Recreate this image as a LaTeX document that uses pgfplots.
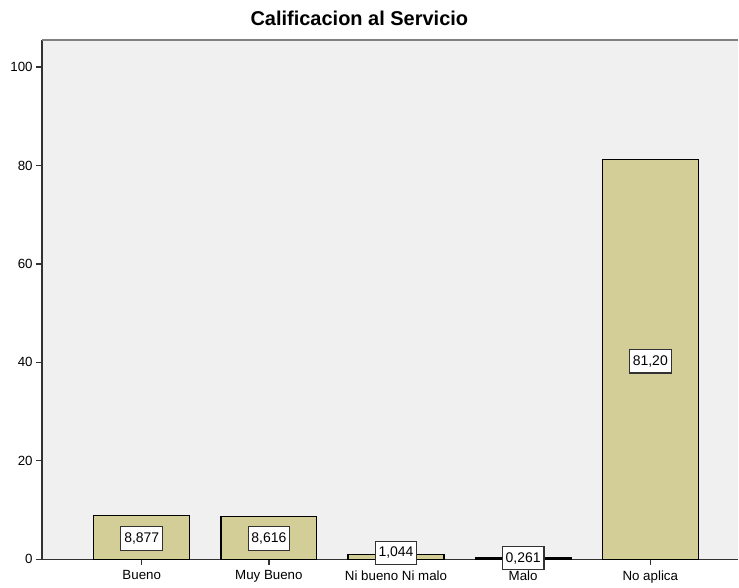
\documentclass[border=0pt]{standalone}
\usepackage{pgfplots}
\pgfplotsset{compat=1.18}
\usepackage{fontspec}
\setmainfont{Liberation Sans}

\definecolor{barfill}{RGB}{211,206,151}
\definecolor{plotbg}{RGB}{240,240,240}
\definecolor{axisdark}{RGB}{50,50,50}

\begin{document}
\begin{tikzpicture}
\begin{axis}[
    scale only axis,
    width=522.75pt, height=390pt,
    xmin=-0.785, xmax=4.69,
    ymin=0, ymax=105.5,
    axis x line*=bottom, axis y line*=left,
    axis line style={axisdark, line width=1pt, -},
    axis background/.style={fill=plotbg},
    ytick={0,20,40,60,80,100},
    xtick={0,1,2,3,4},
    xticklabels={Bueno, Muy Bueno, Ni bueno Ni malo, Malo, No aplica},
    tick align=outside,
    major tick length=4.5pt,
    tick style={axisdark, line width=1pt},
    yticklabel style={font=\fontsize{10}{12}\selectfont, xshift=1pt},
    xticklabel style={font=\fontsize{10}{12}\selectfont, yshift=-0.5pt},
    /pgf/number format/assume math mode=true,
    title={\textbf{Calificacion al Servicio}},
    title style={at={(0.456,1)}, anchor=base, yshift=4.5pt, font=\fontsize{15}{17}\selectfont},
    clip=false,
]
\addplot[ybar, bar width=72pt, fill=barfill, draw=black, line width=0.9pt] coordinates {
    (0,8.877)
    (1,8.616)
    (2,1.044)
    (3,0.261)
    (4,81.20)
};
\addplot[draw=none, mark=none, nodes near coords, point meta=explicit symbolic,
    every node near coord/.append style={anchor=center, fill=white, draw=axisdark,
        line width=0.8pt, inner xsep=2.5pt, inner ysep=0pt, minimum height=17.5pt,
        font=\fontsize{10.5}{12}\selectfont}]
    coordinates {
    (0,4.2) [8,877]
    (1,4.2) [8,616]
    (2,1.3) [1,044]
    (3,0.2) [0,261]
    (4,40.2) [81,20]
};
\draw[gray, line width=1.5pt] (rel axis cs:0,1) -- (rel axis cs:1,1);
\coordinate (ll) at (rel axis cs:0,0);
\coordinate (ur) at (rel axis cs:1,1);
\end{axis}
\path[use as bounding box] ([xshift=-31.5pt,yshift=-18.75pt]ll) rectangle ([yshift=30pt]ur);
\end{tikzpicture}
\end{document}
